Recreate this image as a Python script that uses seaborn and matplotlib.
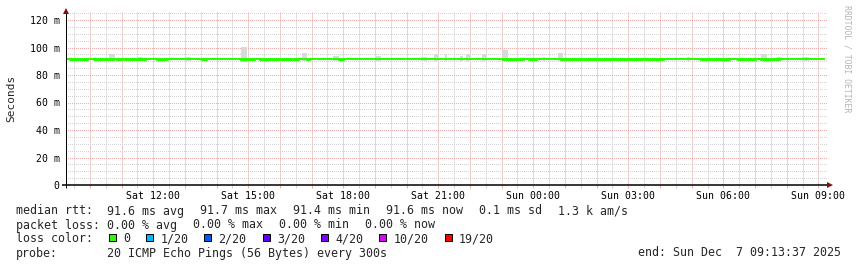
import numpy as np
import pandas as pd
import matplotlib
matplotlib.use("Agg")
import matplotlib.pyplot as plt
from matplotlib.patches import Rectangle
from matplotlib.ticker import MultipleLocator, FuncFormatter
import seaborn as sns

# ---------------- data (time in hours since Sat 00:00, values in ms) ----------------
x_start_h = 9.243
x_end_h = 33.305
line_start_h = 9.24
line_end_h = 33.21
median_ms = 91.7
median_low_ms = 91.0
low_start_h = [9.37, 10.13, 10.86, 11.11, 12.12, 13.55, 14.77, 15.37, 16.45, 16.85,
               17.87, 23.05, 23.86, 24.88, 27.53, 29.29, 30.46, 31.19]
low_end_h = [9.94, 10.76, 11.03, 11.77, 12.45, 13.70, 15.20, 16.38, 16.60, 16.94,
             18.01, 23.70, 24.11, 27.45, 28.12, 30.20, 31.02, 31.79]

smoke_start_h = [10.60, 11.49, 13.00, 14.77, 16.69, 17.67, 19.00, 20.45, 20.86, 21.21,
                 21.68, 21.87, 22.38, 23.05, 24.31, 24.78, 28.85, 31.19, 31.69, 32.48]
smoke_end_h = [10.79, 11.68, 13.19, 14.96, 16.85, 17.86, 19.19, 20.64, 21.02, 21.27,
               21.78, 22.03, 22.54, 23.20, 24.37, 24.94, 28.95, 31.38, 31.85, 32.70]
smoke_top_ms = [95.3, 93.0, 93.0, 100.1, 96.0, 94.0, 94.0, 93.0, 95.5, 95.5,
                94.0, 95.5, 95.5, 98.0, 93.0, 96.0, 93.0, 95.3, 93.0, 93.0]
smoke_low_ms = [90.2, 90.2, 90.2, 89.5, 90.2, 90.2, 90.2, 90.2, 90.2, 90.2,
                90.2, 90.2, 90.2, 90.0, 90.2, 90.2, 90.2, 90.2, 90.2, 90.2]

y_ticks_ms = [0, 20, 40, 60, 80, 100, 120]
y_tick_labels = ["0", "20 m", "40 m", "60 m", "80 m", "100 m", "120 m"]
x_label_hours = [12, 15, 18, 21, 24, 27, 30, 33]
x_tick_labels = ["Sat 12:00", "Sat 15:00", "Sat 18:00", "Sat 21:00",
                 "Sun 00:00", "Sun 03:00", "Sun 06:00", "Sun 09:00"]

rtt_label = "median rtt:"
rtt_items = ["91.6 ms avg", "91.7 ms max", "91.4 ms min", "91.6 ms now", "0.1 ms sd", "1.3 k am/s"]
loss_label = "packet loss:"
loss_items = ["0.00 % avg", "0.00 % max", "0.00 % min", "0.00 % now"]
color_label = "loss color:"
loss_names = ["0", "1/20", "2/20", "3/20", "4/20", "10/20", "19/20"]
loss_colors = ["#26ff00", "#00b8ff", "#0059ff", "#5e00ff", "#7e00ff", "#dd00ff", "#ff0000"]
probe_label = "probe:"
probe_text = "20 ICMP Echo Pings (56 Bytes) every 300s"
end_text = "end: Sun Dec  7 09:13:37 2025"
watermark = "RRDTOOL / TOBI OETIKER"
y_title = "Seconds"

# ---------------- build step series ----------------
t = [line_start_h]
hi = [median_ms]
lo = [median_ms]
for s, e in zip(low_start_h, low_end_h):
    t += [s, e]
    hi += [median_ms, median_ms]
    lo += [median_low_ms, median_ms]
t.append(line_end_h)
hi.append(median_ms)
lo.append(median_ms)
df = pd.DataFrame({"t": t, "hi": hi, "lo": lo})

# ---------------- figure ----------------
sns.set_theme(style="white")
plt.rcParams["font.family"] = ["DejaVu Sans Mono", "DejaVu Sans"]

W, H = 857, 267
fig = plt.figure(figsize=(W / 100, H / 100), dpi=100)
fig.patch.set_facecolor("white")

ax_l, ax_r, ax_t, ax_b = 66.0, 828.0, 12.0, 185.0
ax = fig.add_axes([ax_l / W, 1 - ax_b / H, (ax_r - ax_l) / W, (ax_b - ax_t) / H])
ax.set_facecolor("white")
PX = 0.72  # one pixel in points

ax.set_xlim(x_start_h, x_end_h)
ax.set_ylim(0, (185 - 12) / 1.375)

# grid
ax.xaxis.set_major_locator(MultipleLocator(1))
ax.xaxis.set_minor_locator(MultipleLocator(0.5))
ax.yaxis.set_major_locator(MultipleLocator(20))
ax.yaxis.set_minor_locator(MultipleLocator(5))
dot = (0, (1, 1.5))
ax.yaxis.grid(True, which="minor", color="#d2d2d2", linestyle=dot, linewidth=PX, antialiased=False)
ax.yaxis.grid(True, which="major", color="#eeacac", linestyle=dot, linewidth=PX, antialiased=False)
ax.xaxis.grid(True, which="minor", color="#c4c4c4", linestyle=(0, (1, 1)), linewidth=PX, antialiased=True)
ax.xaxis.grid(True, which="major", color="#e89a9a", linestyle=(0, (1, 1)), linewidth=PX, antialiased=True)
ax.set_axisbelow(True)

lab_map = dict(zip(x_label_hours, x_tick_labels))
ax.xaxis.set_major_formatter(FuncFormatter(lambda v, p: lab_map.get(int(round(v)), "") if abs(v - round(v)) < 1e-6 else ""))
ax.set_yticks(y_ticks_ms)
ax.set_yticklabels(y_tick_labels)
ax.tick_params(axis="x", which="major", length=3 * PX, width=PX, color="#eeacac",
               labelsize=7.1, pad=2.5, direction="out", bottom=True)
ax.tick_params(axis="x", which="minor", length=3 * PX, width=PX, color="#d2d2d2",
               direction="out", bottom=True)
ax.tick_params(axis="y", which="both", length=0, labelsize=7.1, pad=4.6)
for lab in ax.get_xticklabels() + ax.get_yticklabels():
    lab.set_color("black")

for sp in ax.spines.values():
    sp.set_visible(False)

# smoke
ax.bar(smoke_start_h, np.array(smoke_top_ms) - np.array(smoke_low_ms),
       width=np.array(smoke_end_h) - np.array(smoke_start_h),
       bottom=smoke_low_ms, align="edge", color="#d9d9d9", linewidth=0, zorder=2)

# median (loss colour 0)
sns.lineplot(data=df, x="t", y="hi", drawstyle="steps-post", color=loss_colors[0],
             linewidth=2 * PX, ax=ax, zorder=3, solid_capstyle="butt")
sns.lineplot(data=df, x="t", y="lo", drawstyle="steps-post", color=loss_colors[0],
             linewidth=2 * PX, ax=ax, zorder=3, solid_capstyle="butt")
ax.set_xlabel("")
ax.set_ylabel("")

# axes lines with arrows
axw = ax_r - ax_l
axh = ax_b - ax_t
ax.plot([-4 / axw, 1 + 2 / axw], [0, 0], transform=ax.transAxes, color="black",
        lw=1.1, clip_on=False, zorder=5, solid_capstyle="butt")
ax.plot([0, 0], [-3 / axh, 1 + 1 / axh], transform=ax.transAxes, color="black",
        lw=PX, clip_on=False, zorder=5, solid_capstyle="butt")
ax.plot([1 + 2 / axw], [0], marker=">", ms=4, color="#7f1010", transform=ax.transAxes,
        clip_on=False, zorder=6, markeredgewidth=0)
ax.plot([0], [1 + 1 / axh], marker="^", ms=4, color="#7f1010", transform=ax.transAxes,
        clip_on=False, zorder=6, markeredgewidth=0)


def ftext(x, y, s, **kw):
    fig.text(x / W, 1 - y / H, s, **kw)


# y title and watermark
ftext(11, 98.5, y_title, rotation=90, ha="center", va="center", fontsize=8.0)
ftext(847, 5, watermark, rotation=270, ha="center", va="top", fontsize=5.9, color="#b4b4b4")

# legend lines
FS = 8.37
char_w = 7.0
gap = 16.0
row_y = [214.5, 228.5, 242.5, 256.5]
x0, x1 = 16, 107

ftext(x0, row_y[0], rtt_label, fontsize=FS, va="baseline")
x = x1
for s in rtt_items:
    ftext(x, row_y[0], s, fontsize=FS, va="baseline")
    x += len(s) * char_w + gap

ftext(x0, row_y[1], loss_label, fontsize=FS, va="baseline")
x = x1
for s in loss_items:
    ftext(x, row_y[1], s, fontsize=FS, va="baseline")
    x += len(s) * char_w + gap

ftext(x0, row_y[2], color_label, fontsize=FS, va="baseline")
x = 108.7
for name, col in zip(loss_names, loss_colors):
    fig.patches.append(Rectangle((x / W, 1 - 240.5 / H), 7 / W, 7 / H, transform=fig.transFigure,
                                 facecolor=col, edgecolor="black", linewidth=PX, zorder=5))
    ftext(x + 14.3, row_y[2], name, fontsize=FS, va="baseline")
    x += 14.3 + len(name) * char_w + gap

ftext(x0, row_y[3], probe_label, fontsize=FS, va="baseline")
ftext(x1, row_y[3], probe_text, fontsize=FS, va="baseline")
ftext(841, row_y[3], end_text, fontsize=FS, va="baseline", ha="right")

fig.savefig("out.png", dpi=100, facecolor="white")
